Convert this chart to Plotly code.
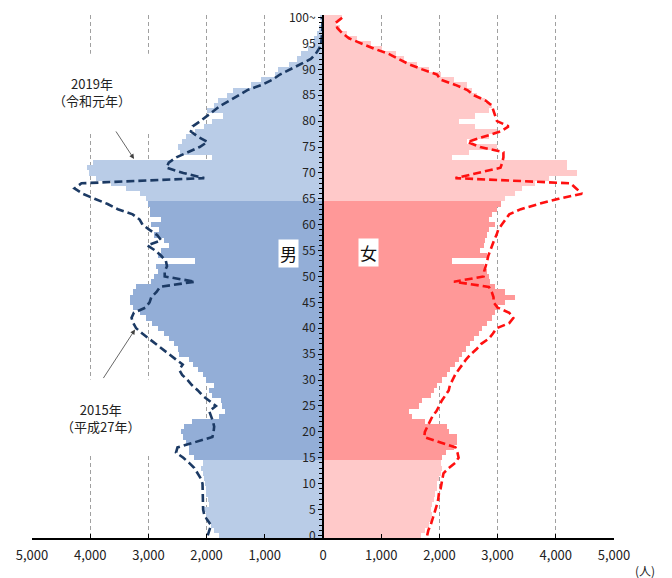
import plotly.graph_objects as go

ages = list(range(0, 101))

male_2019 = [1780, 1870, 1925, 1980, 2010, 2040, 1955, 1980, 2010, 2010,
             2030, 2040, 2070, 2100, 2070, 2210, 2295, 2295, 2355, 2410,
             2440, 2380, 2250, 1790, 1690, 1740, 1760, 1900, 1960, 1870,
             2010, 2070, 2155, 2240, 2295, 2470, 2500, 2555, 2640, 2725,
             2840, 2930, 3040, 3150, 3270, 3310, 3310, 3270, 3210, 2955,
             2900, 2840, 2870, 2200, 2840, 2780, 2640, 2725, 2900, 2810,
             2950, 2780, 2980, 2980, 3010, 3040, 3150, 3380, 3650, 3900,
             4020, 4060, 3950, 1900, 2450, 2490, 2420, 2350, 2200, 2050,
             1900, 1720, 2000, 1870, 1810, 1650, 1540, 1240, 1070, 820,
             780, 590, 450, 380, 260, 180, 150, 110, 70, 40,
             60]

female_2019 = [1680, 1760, 1820, 1850, 1880, 1850, 1880, 1905, 1930, 1960,
               1960, 1990, 2020, 2050, 2020, 2050, 2105, 2250, 2305, 2305,
               2160, 2130, 1760, 1530, 1475, 1650, 1705, 1850, 1905, 1960,
               2050, 2130, 2190, 2275, 2330, 2390, 2450, 2530, 2590, 2675,
               2735, 2820, 2905, 2960, 2990, 3130, 3300, 3130, 2960, 2875,
               2850, 2820, 2760, 2220, 2820, 2700, 2760, 2790, 2820, 2850,
               2960, 2850, 2905, 2990, 3050, 3130, 3300, 3420, 3650, 3880,
               4360, 4190, 4190, 2220, 2500, 2990, 2480, 2850, 2990, 2620,
               2330, 2620, 2850, 2900, 2790, 2650, 2560, 2480, 2250, 2020,
               1820, 1620, 1390, 1250, 1020, 820, 590, 420, 300, 230,
               330]

male_2015 = [1980, 1950, 1925, 1990, 2040, 2060, 2060, 2070, 2070, 2070,
             2070, 2100, 2160, 2210, 2300, 2400, 2525, 2500, 2200, 1900,
             1880, 1870, 1890, 1920, 1955, 1840, 1960, 2070, 2150, 2250,
             2325, 2420, 2470, 2410, 2530, 2640, 2760, 2875, 2990, 3105,
             3210, 3260, 3290, 3250, 3050, 2980, 2950, 2860, 2800, 2200,
             2720, 2720, 2680, 2700, 2780, 2880, 3020, 2780, 2850, 2980,
             3100, 3150, 3270, 3525, 3700, 3925, 4130, 4270, 4150, 2040,
             2400, 2690, 2650, 2520, 2330, 2120, 1985, 2150, 2270, 2240,
             2110, 2000, 1890, 1760, 1600, 1450, 1300, 1050, 870, 740,
             560, 380, 210, 125, 68, 30, 20, 15, 10, 10,
             20]

female_2015 = [1790, 1810, 1850, 1880, 1900, 1930, 1960, 1980, 1990, 2020,
               2040, 2060, 2070, 2160, 2270, 2330, 2310, 2275, 1990, 1740,
               1750, 1790, 1830, 1880, 1950, 1990, 2040, 2100, 2160, 2180,
               2220, 2270, 2330, 2390, 2460, 2540, 2640, 2720, 2850, 2920,
               2980, 3200, 3270, 3200, 3000, 2930, 2930, 2900, 2850, 2250,
               2760, 2770, 2800, 2820, 2840, 2870, 2900, 2940, 2980, 3010,
               3070, 3130, 3200, 3400, 3700, 4050, 4450, 4350, 4250, 2275,
               2650, 3050, 3080, 3100, 3100, 2700, 2480, 2750, 3050, 3190,
               2990, 2960, 2930, 2900, 2790, 2590, 2480, 2275, 2020, 1960,
               1705, 1475, 1300, 1130, 875, 675, 446, 330, 246, 218,
               330]

x_tick_vals = [-5000, -4000, -3000, -2000, -1000, 0, 1000, 2000, 3000, 4000, 5000]
x_tick_text = ["5,000", "4,000", "3,000", "2,000", "1,000", "0",
               "1,000", "2,000", "3,000", "4,000", "5,000"]
y_tick_vals = list(range(0, 101, 5))
y_tick_text = [str(v) for v in range(0, 100, 5)] + ["100~"]

FONT = "Noto Sans CJK JP"

male_dark, male_light = "#93aed7", "#b9cce7"
female_dark, female_light = "#ff9898", "#ffc9c9"
male_colors = [male_dark if 15 <= a <= 64 else male_light for a in ages]
female_colors = [female_dark if 15 <= a <= 64 else female_light for a in ages]

fig = go.Figure()
fig.add_trace(go.Bar(y=ages, x=[-v for v in male_2019], orientation="h", width=1,
                     marker=dict(color=male_colors, line=dict(width=0)),
                     name="男 2019", showlegend=False))
fig.add_trace(go.Bar(y=ages, x=female_2019, orientation="h", width=1,
                     marker=dict(color=female_colors, line=dict(width=0)),
                     name="女 2019", showlegend=False))
fig.add_trace(go.Scatter(y=ages, x=[-v for v in male_2015], mode="lines",
                         line=dict(color="#1c3a64", width=2.6, dash="8px,4px"),
                         name="男 2015", showlegend=False))
fig.add_trace(go.Scatter(y=ages, x=female_2015, mode="lines",
                         line=dict(color="#ff1010", width=2.6, dash="8px,4px"),
                         name="女 2015", showlegend=False))

fig.update_layout(
    width=672, height=578,
    margin=dict(l=24, r=66, t=7, b=48),
    paper_bgcolor="white", plot_bgcolor="white",
    barmode="overlay", bargap=0,
    font=dict(family=FONT, color="#222222"),
    xaxis=dict(range=[-5000, 5000], tickvals=x_tick_vals, ticktext=x_tick_text,
               showgrid=True, gridcolor="#a0a0a0", griddash="4px,3px", gridwidth=1,
               zeroline=False, showline=True, linecolor="black", linewidth=1.5,
               ticks="inside", ticklen=4, tickcolor="black", ticklabelstandoff=5,
               automargin=False,
               tickfont=dict(size=13, family=FONT), fixedrange=True),
    yaxis=dict(range=[-0.5, 100.5], tickvals=y_tick_vals, ticktext=y_tick_text,
               anchor="free", position=0.5, showgrid=False, zeroline=False,
               showline=True, linecolor="black", linewidth=2,
               ticks="outside", ticklen=4, tickcolor="black",
               ticklabeloverflow="allow", automargin=False,
               minor=dict(dtick=1, ticks="outside", ticklen=3, tickcolor="black"),
               tickfont=dict(size=12, family=FONT), fixedrange=True),
    shapes=[
        dict(type="rect", xref="x", yref="y", x0=-4800, x1=-2750, y0=78, y1=93,
             fillcolor="white", line=dict(width=0), layer="between"),
        dict(type="rect", xref="x", yref="y", x0=-4800, x1=-2750, y0=15.6, y1=30.1,
             fillcolor="white", line=dict(width=0), layer="between"),
    ],
)

fig.add_annotation(x=-3970, y=85.7, xref="x", yref="y", showarrow=False,
                   text="2019年<br>（令和元年）", font=dict(size=13, family=FONT, color="#222"))
fig.add_annotation(x=-3830, y=22.6, xref="x", yref="y", showarrow=False,
                   text="2015年<br>（平成27年）", font=dict(size=13, family=FONT, color="#222"))
fig.add_annotation(x=-3247, y=72.7, ax=-3574, ay=78.3, xref="x", yref="y",
                   axref="x", ayref="y", text="", showarrow=True,
                   arrowhead=2, arrowsize=1.2, arrowwidth=0.8, arrowcolor="#404040")
fig.add_annotation(x=-3230, y=39.75, ax=-3790, ay=30.1, xref="x", yref="y",
                   axref="x", ayref="y", text="", showarrow=True,
                   arrowhead=2, arrowsize=1.2, arrowwidth=0.8, arrowcolor="#404040")
fig.add_annotation(x=-585, y=54.5, xref="x", yref="y", showarrow=False, text="男",
                   bgcolor="white", borderpad=1, font=dict(size=17, family=FONT, color="#111"))
fig.add_annotation(x=790, y=54.7, xref="x", yref="y", showarrow=False, text="女",
                   bgcolor="white", borderpad=1, font=dict(size=17, family=FONT, color="#111"))
fig.add_annotation(x=1.074, y=-0.083, xref="paper", yref="paper", showarrow=False,
                   text="(人)", font=dict(size=12, family=FONT, color="#222"))

fig.write_html("out.html")
